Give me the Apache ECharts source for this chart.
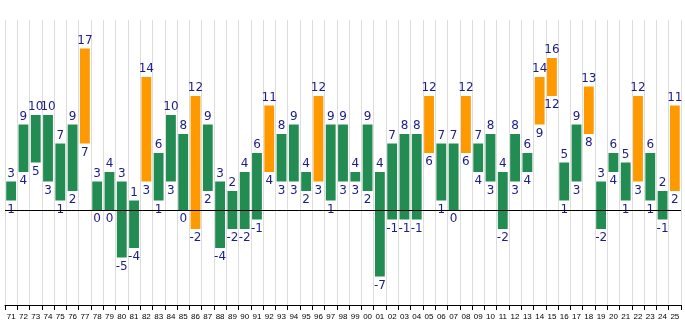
<!DOCTYPE html>
<html><head><meta charset="utf-8">
<script src="https://cdn.jsdelivr.net/npm/echarts@6/dist/echarts.min.js"></script>
<style>html,body{margin:0;padding:0;background:#fff}#c{width:685px;height:330px}</style>
</head><body><div id="c"></div>
<script>
const categories = ['71','72','73','74','75','76','77','78','79','80','81','82','83','84','85','86','87','88','89','90','91','92','93','94','95','96','97','98','99','00','01','02','03','04','05','06','07','08','09','10','11','12','13','14','15','16','17','18','19','20','21','22','23','24','25'];
const lows  = [1,4,5,3,1,2,7,0,0,-5,-4,3,1,3,0,-2,2,-4,-2,-2,-1,4,3,3,2,3,1,3,3,2,-7,-1,-1,-1,6,1,0,6,4,3,-2,3,4,9,12,1,3,8,-2,4,1,3,1,-1,2];
const highs = [3,9,10,10,7,9,17,3,4,3,1,14,6,10,8,12,9,3,2,4,6,11,8,9,4,12,9,9,4,9,4,7,8,8,12,7,7,12,7,8,4,8,6,14,16,5,9,13,3,6,5,12,6,2,11];
const highlight = [0,0,0,0,0,0,1,0,0,0,0,1,0,0,0,1,0,0,0,0,0,1,0,0,0,1,0,0,0,0,0,0,0,0,1,0,0,1,0,0,0,0,0,1,1,0,0,1,0,0,0,1,0,0,1];

const GREEN = '#238c52', ORANGE = '#ff9900', LBL = '#1c1c8a';
const data = categories.map((c, i) => [i, lows[i], highs[i], highlight[i]]);

const chart = echarts.init(document.getElementById('c'), null, {renderer: 'canvas'});
chart.setOption({
  animation: false,
  grid: {left: 5, right: 4, top: 20, bottom: 25},
  xAxis: {
    type: 'category', data: categories, boundaryGap: true,
    axisLine: {onZero: false, lineStyle: {color: '#000', width: 1}},
    axisTick: {show: true, length: 5, lineStyle: {color: '#000'}},
    axisLabel: {interval: 0, color: '#000', fontSize: 8, fontFamily: 'Liberation Sans', margin: 8},
    splitLine: {show: true, lineStyle: {color: '#dddddd', width: 1}}
  },
  yAxis: {type: 'value', min: -10, max: 20, show: false, splitLine: {show: false}},
  series: [{
    type: 'custom',
    data: data,
    encode: {x: 0, y: [1, 2]},
    renderItem: function (params, api) {
      const x = api.value(0), lo = api.value(1), hi = api.value(2), hl = api.value(3);
      const pLo = api.coord([x, lo]);
      const pHi = api.coord([x, hi]);
      const bw = api.size([1, 0])[0] * 0.8;
      const fill = hl ? ORANGE : GREEN;
      return {
        type: 'group',
        children: [
          {type: 'rect', shape: {x: pHi[0] - bw / 2, y: pHi[1], width: bw, height: pLo[1] - pHi[1]}, style: {fill: fill}},
          {type: 'text', style: {text: String(hi), x: pHi[0], y: pHi[1] - 2, align: 'center', verticalAlign: 'bottom', fill: LBL, font: '12px "DejaVu Sans"'}},
          {type: 'text', style: {text: String(lo), x: pLo[0], y: pLo[1] + 3, align: 'center', verticalAlign: 'top', fill: LBL, font: '12px "DejaVu Sans"'}}
        ]
      };
    },
    markLine: {
      silent: true, symbol: 'none', label: {show: false},
      lineStyle: {color: '#000', width: 1, type: 'solid'},
      data: [{yAxis: 0}]
    },
    z: 3
  }]
});
</script></body></html>
